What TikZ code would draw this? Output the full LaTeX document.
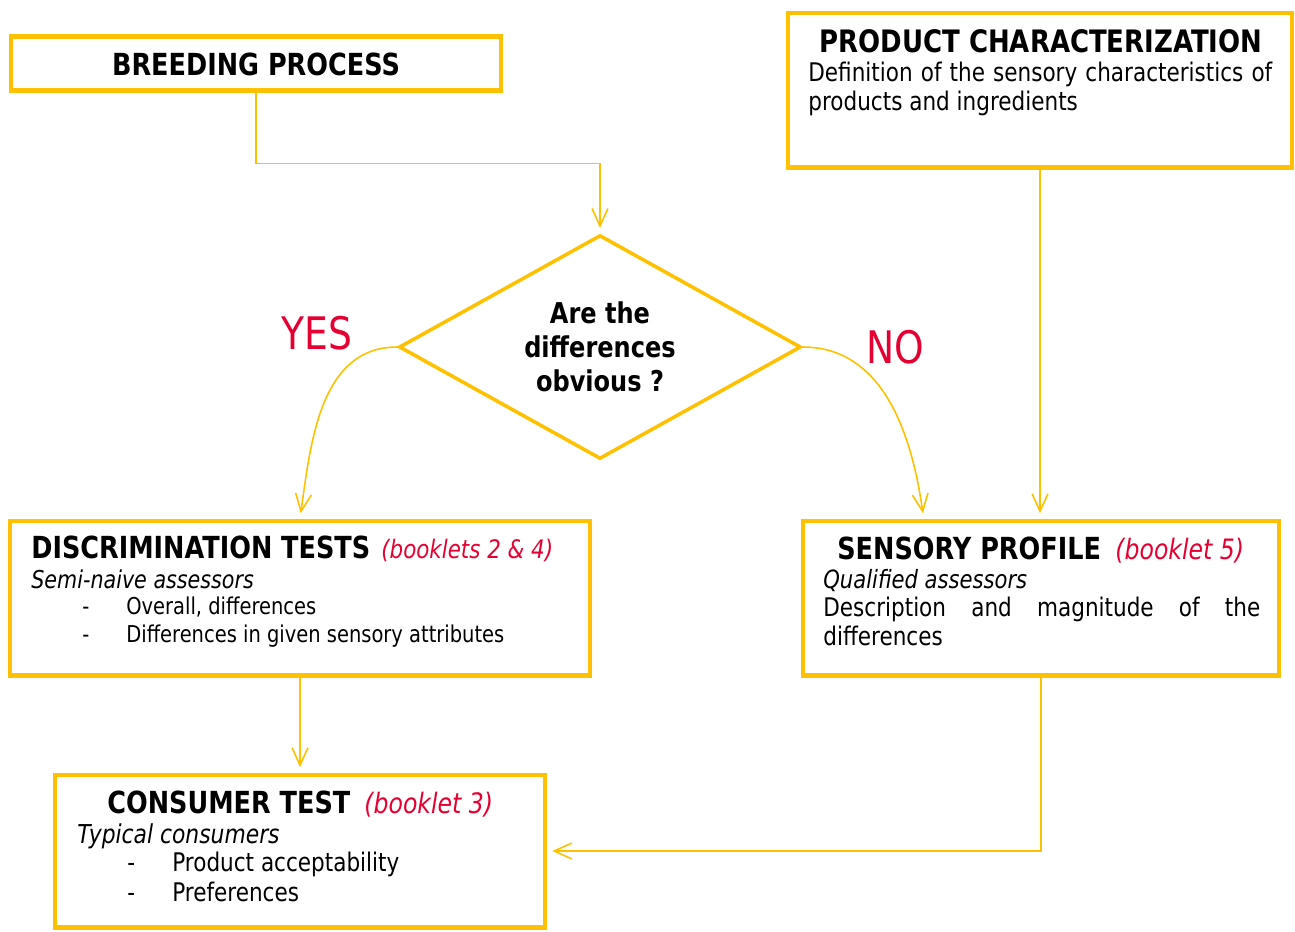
\documentclass[tikz,border=0pt]{standalone}
\usepackage{fontspec}
\setmainfont{DejaVu Sans}[FakeStretch=0.84,
  BoldFont={DejaVu Sans Bold},
  ItalicFont={DejaVu Sans Oblique},
  BoldItalicFont={DejaVu Sans Bold Oblique}]
\usepackage{tikz}
\usetikzlibrary{positioning,shapes.geometric,arrows.meta,calc}
\definecolor{gold}{RGB}{255,192,0}
\definecolor{bookred}{RGB}{230,0,50}
\tikzset{box/.style={draw=gold, line width=2.3pt, inner sep=0pt},
         decision/.style={diamond, draw=gold, line width=2pt, inner sep=0pt, aspect=1.8,
                          align=center, font=\bfseries\fontsize{16.3}{19.3}\selectfont},
         arc/.style={-{Straight Barb[length=10pt,width=9pt]}, draw=gold, line width=0.9pt, shorten >=3pt},
         txt/.style={inner sep=0pt, anchor=base west},
         head/.style={txt, font=\bfseries\fontsize{17.3}{20}\selectfont},
         booklet/.style={txt, text=bookred, font=\itshape\fontsize{16}{19}\selectfont},
         who/.style={txt, font=\itshape\fontsize{14}{17}\selectfont},
         item/.style={txt, font=\fontsize{13.2}{16}\selectfont},
         body/.style={txt, font=\fontsize{14.6}{18}\selectfont},
         answer/.style={txt, text=bookred, font=\fontsize{25.5}{30}\selectfont}
}

\begin{document}
\begin{tikzpicture}[x=0.02cm,y=-0.02cm]
  \useasboundingbox (0,0) rectangle (1295,931);
  % boxes
  \node[box, minimum width=9.8cm, minimum height=1.08cm] (breed) at (256,63.5) {};
  \node[box, minimum width=10.1cm, minimum height=3.1cm] (prod) at (1040,90) {};
  \node[decision, minimum width=8.04cm, minimum height=4.48cm] (quest) at (600,347)
       {Are the\\differences\\obvious ?};
  \node[box, minimum width=11.6cm, minimum height=3.1cm] (discr) at (300,598) {};
  \node[box, minimum width=9.54cm, minimum height=3.1cm] (sens) at (1041,598) {};
  \node[box, minimum width=9.8cm, minimum height=3.06cm] (cons) at (300,851) {};
  % texts
  \node[head, anchor=base] (breedT) at (256,75) {BREEDING PROCESS};
  \node[head, anchor=base, font=\bfseries\fontsize{17.6}{20}\selectfont] (prodT) at (1041,52) {PRODUCT CHARACTERIZATION};
  \node[body] (prodA) at (808,81) {\makebox[9.28cm][s]{Definition of the sensory characteristics of}};
  \node[body] (prodB) at (808,110) {products and ingredients};
  \node[head] (discrT) at (31,558) {DISCRIMINATION TESTS};
  \node[booklet, font=\itshape\fontsize{14.5}{17}\selectfont] (discrB) at (381,558) {(booklets 2 \& 4)};
  \node[who] (discrW) at (31,588) {Semi-naive assessors};
  \node[item] (discrA) at (82,614) {\makebox[0.88cm][l]{-}Overall, differences};
  \node[item] (discrC) at (82,642) {\makebox[0.88cm][l]{-}Differences in given sensory attributes};
  \node[head] (sensT) at (837,559) {SENSORY PROFILE};
  \node[booklet] (sensB) at (1115,559) {(booklet 5)};
  \node[who, font=\itshape\fontsize{14.3}{17}\selectfont] (sensW) at (823,588) {Qualified assessors};
  \node[body] (sensA) at (823,616) {\makebox[8.74cm][s]{Description and magnitude of the}};
  \node[body] (sensC) at (823,645) {differences};
  \node[head] (consT) at (107,813) {CONSUMER TEST};
  \node[booklet] (consB) at (364,813) {(booklet 3)};
  \node[who, font=\itshape\fontsize{14.8}{17}\selectfont] (consW) at (77,843) {Typical consumers};
  \node[body] (consA) at (127,871) {\makebox[0.9cm][l]{-}Product acceptability};
  \node[body] (consC) at (127,901) {\makebox[0.9cm][l]{-}Preferences};
  \node[answer] (yes) at (281,349) {YES};
  \node[answer] (no) at (866,363) {NO};
  % connectors
  \coordinate (noEnd) at ($(sens.north west)!0.256!(sens.north east)$);
  \draw[arc] (breed.south) -- ++(0,71) -| (quest.north);
  \draw[arc] (quest.west) to[out=180,in=82] (discr.north);
  \draw[arc] (quest.east) to[out=0,in=98] (noEnd);
  \draw[arc] (prod.south) -- (prod.south |- sens.north);
  \draw[arc] (discr.south) -- (cons.north);
  \draw[arc] (sens.south) |- (cons.east);
\end{tikzpicture}
\end{document}
